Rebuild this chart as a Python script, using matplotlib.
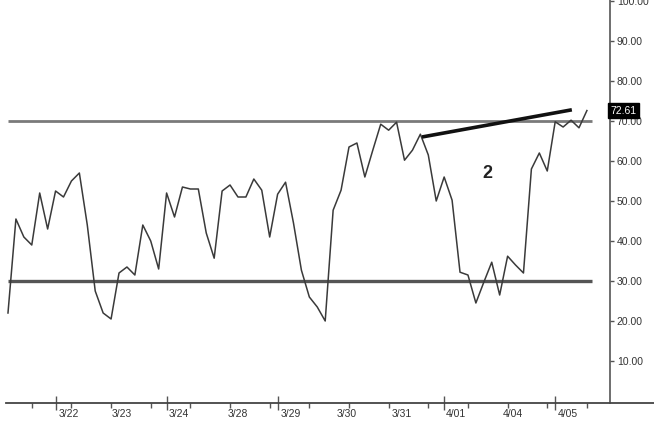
import matplotlib
matplotlib.use("Agg")
import matplotlib.pyplot as plt
from matplotlib import font_manager

# ---------------- data ----------------
values = [22.0, 45.5, 41.0, 39.0, 52.0, 43.0, 52.5, 51.0, 55.0, 57.0,
          44.0, 27.5, 22.0, 20.5, 32.0, 33.5, 31.5, 44.0, 40.0, 33.0,
          52.0, 46.0, 53.5, 53.0, 53.0, 42.0, 35.7, 52.5, 54.0, 51.0,
          51.0, 55.5, 52.7, 41.0, 51.7, 54.7, 44.5, 32.7, 26.0, 23.5,
          20.0, 47.7, 52.7, 63.5, 64.5, 56.0, 62.7, 69.2, 67.7, 69.7,
          60.2, 62.7, 66.7, 61.5, 50.0, 56.0, 50.2, 32.2, 31.5, 24.5,
          29.7, 34.7, 26.5, 36.2, 34.0, 32.0, 58.0, 62.0, 57.5, 69.8,
          68.5, 70.2, 68.3, 72.61]
last_value = 72.61
upper_level = 70.0
lower_level = 30.0
trend_x = [52.2, 71.1]
trend_y = [66.0, 72.8]
day_labels = ["3/22", "3/23", "3/24", "3/28", "3/29", "3/30", "3/31", "4/01", "4/04", "4/05"]
day_label_pos = [7.7, 14.4, 21.6, 29.0, 35.7, 42.7, 49.7, 56.5, 63.7, 70.6]
day_break_pos = [6, 20, 34, 55, 69]
minor_tick_pos = list(range(3, 75, 5))
y_ticks = [10, 20, 30, 40, 50, 60, 70, 80, 90, 100]
wave_label = "2"
wave_label_pos = (60.4, 57.0)
axis_pos = 75.9

# ---------------- fonts ----------------
avail = {f.name for f in font_manager.fontManager.ttflist}
if "Liberation Sans Narrow" in avail:
    tick_font = "Liberation Sans Narrow"
    tick_size = 8.5
else:
    tick_font = "Liberation Sans"
    tick_size = 7.5
plt.rcParams['font.family'] = [tick_font, 'DejaVu Sans']

fig = plt.figure(figsize=(6.54, 4.25), dpi=100, facecolor="white")
ax = fig.add_axes([6/654, 22/425, 1 - 6/654, 403/425])
ax.set_facecolor("white")

x = list(range(len(values)))
ax.plot(x, values, color="#3a3a3a", lw=1.1, zorder=3)

ax.plot([0, 73.6], [upper_level, upper_level], color="#7a7a7a", lw=2.0, zorder=2,
        solid_capstyle="butt")
ax.plot([0, 73.6], [lower_level, lower_level], color="#555555", lw=2.4, zorder=2,
        solid_capstyle="butt")
ax.plot(trend_x, trend_y, color="#111111", lw=2.6, zorder=4, solid_capstyle="butt")

ax.text(wave_label_pos[0], wave_label_pos[1], wave_label, fontsize=13, fontweight="bold",
        ha="center", va="center", color="#222222", family=["Liberation Sans", "DejaVu Sans"])

ax.set_xlim(-0.25, 81.46)
ax.set_ylim(-0.5, 100.25)

for s in ["top", "left"]:
    ax.spines[s].set_visible(False)
ax.spines["bottom"].set_color("#444444")
ax.spines["bottom"].set_linewidth(1.3)
ax.spines["right"].set_position(("data", axis_pos))
ax.spines["right"].set_color("#555555")
ax.spines["right"].set_linewidth(1.2)

ax.yaxis.tick_right()
ax.set_yticks(y_ticks)
ax.set_yticklabels([f"{v:.2f}" for v in y_ticks])
ax.tick_params(axis="y", direction="out", length=3, width=1, color="#555555",
               labelsize=tick_size, labelcolor="#333333", pad=2)

ax.set_xticks(day_label_pos)
ax.set_xticklabels(day_labels)
ax.tick_params(axis="x", which="major", length=0, labelsize=tick_size, labelcolor="#333333", pad=4)
ax.set_xticks(minor_tick_pos, minor=True)
ax.tick_params(axis="x", which="minor", direction="out", length=3.5, width=1, color="#555555")

sec = ax.secondary_xaxis("bottom")
sec.set_xticks(day_break_pos)
sec.set_xticklabels([""] * len(day_break_pos))
sec.tick_params(axis="x", direction="inout", length=10, width=1, color="#555555")
sec.spines["bottom"].set_visible(False)

ax.text(axis_pos + 0.1, last_value, f"{last_value:.2f}", fontsize=tick_size, color="white",
        ha="left", va="center", zorder=6,
        bbox=dict(boxstyle="square,pad=0.25", facecolor="black", edgecolor="black"))

fig.savefig("out.png", dpi=100, facecolor="white")
